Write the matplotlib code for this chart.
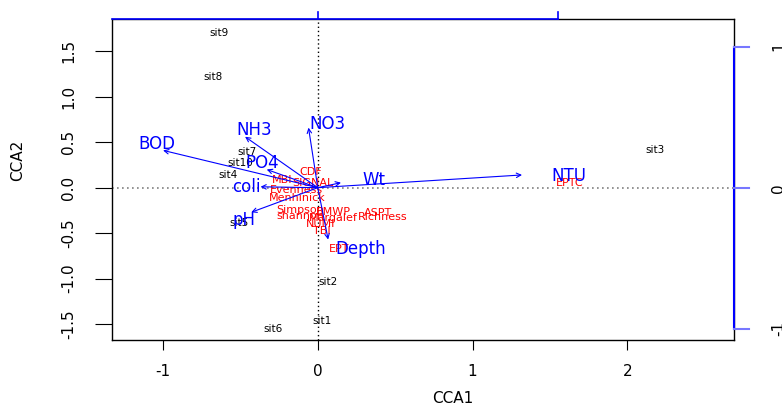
import matplotlib.pyplot as plt

plt.rcParams['font.family'] = ['DejaVu Sans']

# site scores (CCA1, CCA2)
sites = ['sit1', 'sit2', 'sit3', 'sit4', 'sit5', 'sit6', 'sit7', 'sit8', 'sit9', 'sit10']
site_x = [0.03, 0.065, 2.18, -0.58, -0.51, -0.29, -0.46, -0.68, -0.64, -0.50]
site_y = [-1.47, -1.04, 0.41, 0.14, -0.39, -1.55, 0.39, 1.22, 1.70, 0.27]

# species scores
species = ['CDF', 'MBI', 'SIGNAL', 'Evenness', 'Menhinick', 'Simpson', 'shannon',
           'BMWP', 'ASPT', 'Richness', 'Margalef', 'NUMI', 'TBI', 'EPT', 'EPTC']
sp_x = [-0.045, -0.23, -0.03, -0.135, -0.135, -0.115, -0.115,
        0.10, 0.39, 0.42, 0.10, 0.02, 0.025, 0.14, 1.63]
sp_y = [0.17, 0.085, 0.05, -0.025, -0.11, -0.245, -0.315,
        -0.27, -0.28, -0.32, -0.33, -0.40, -0.475, -0.67, 0.05]

# environmental arrows (tips) and label positions
env = ['BOD', 'NH3', 'NO3', 'PO4', 'coli', 'pH', 'Wt', 'NTU', 'Depth']
env_x = [-1.0, -0.47, -0.06, -0.33, -0.37, -0.43, 0.15, 1.32, 0.067]
env_y = [0.41, 0.56, 0.66, 0.20, 0.01, -0.27, 0.055, 0.14, -0.57]
lab_x = [-1.04, -0.41, 0.065, -0.36, -0.46, -0.48, 0.36, 1.62, 0.28]
lab_y = [0.48, 0.63, 0.70, 0.27, 0.01, -0.35, 0.085, 0.13, -0.67]

arrow_mul = 1.55  # scaling of the biplot axes

fig = plt.figure(figsize=(7.82, 4.03), dpi=100)
ax = fig.add_axes([112/782, 1-340/403, 622/782, 321/403])
ax.set_xlim(-1.33, 2.69)
ax.set_ylim(-1.674, 1.854)

ax.axhline(0, color='grey', ls=(0, (1, 2)), lw=1.2)
ax.axvline(0, color='black', ls=(0, (1, 2)), lw=1.0)

for s, x, y in zip(sites, site_x, site_y):
    ax.text(x, y, s, fontsize=7.5, ha='center', va='center', color='black')

for s, x, y in zip(species, sp_x, sp_y):
    ax.text(x, y, s, fontsize=8, ha='center', va='center', color='red')

for s, x, y, lx, ly in zip(env, env_x, env_y, lab_x, lab_y):
    ax.annotate('', xy=(x, y), xytext=(0, 0),
                arrowprops=dict(arrowstyle='->', color='blue', lw=0.8,
                                shrinkA=0, shrinkB=0, mutation_scale=8))
    ax.text(lx, ly, s, fontsize=12, ha='center', va='center', color='blue')

ax.set_xticks([-1, 0, 1, 2])
ax.set_xticklabels(['-1', '0', '1', '2'])
ax.set_yticks([-1.5, -1.0, -0.5, 0.0, 0.5, 1.0, 1.5])
ax.set_yticklabels(['-1.5', '-1.0', '-0.5', '0.0', '0.5', '1.0', '1.5'],
                   rotation=90, va='center')
ax.tick_params(axis='x', length=7, pad=10, labelsize=11)
ax.tick_params(axis='y', length=12, pad=14, labelsize=11)
ax.set_xlabel('CCA1', fontsize=11)
ax.set_ylabel('CCA2', fontsize=11)
ax.xaxis.set_label_coords(0.548, -0.16)
ax.yaxis.set_label_coords(-0.14, 0.56)
for sp in ax.spines.values():
    sp.set_color('black')
    sp.set_linewidth(1)

# blue top axis
ax.plot([-1.33, arrow_mul], [1.854, 1.854], color='blue', lw=1.2, clip_on=False,
        zorder=5)
for t in [0, arrow_mul]:
    ax.plot([t, t], [1.854, 1.854 + 0.08], color='blue', lw=1.2, clip_on=False,
            zorder=5)

# blue right axis
ax.plot([2.69, 2.69], [-arrow_mul, arrow_mul], color='blue', lw=1.5, clip_on=False,
        zorder=5)
for t in [-1, 0, 1]:
    ax.plot([2.69, 2.69 + 0.1], [t*arrow_mul, t*arrow_mul], color='#7777ff', lw=1.5,
            clip_on=False, zorder=5)
    ax.text(2.69 + 0.29, t*arrow_mul, str(t), rotation=90, fontsize=11,
            ha='center', va='center', clip_on=False)

fig.savefig('out.png', dpi=100)
